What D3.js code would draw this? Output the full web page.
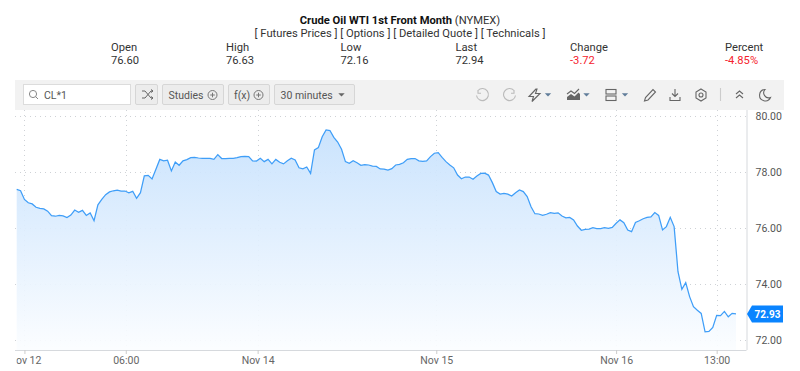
<!DOCTYPE html>
<html><head><meta charset="utf-8">
<script src="https://cdn.jsdelivr.net/npm/d3@7"></script>
<style>html,body{margin:0;padding:0;background:#fff}svg{display:block;font-family:Roboto,sans-serif}</style>
</head><body><svg id="c" width="800" height="371"></svg>
<script>
const titleBold = "Crude Oil WTI 1st Front Month";
const titleRest = " (NYMEX)";
const linksText = "[ Futures Prices ] [ Options ] [ Detailed Quote ] [ Technicals ]";
const quoteLabels = ["Open","High","Low","Last","Change","Percent"];
const quoteValues = ["76.60","76.63","72.16","72.94","-3.72","-4.85%"];
const yTicks = [72,74,76,78,80];
const xTickLabels = ["Nov 12","06:00","Nov 14","Nov 15","Nov 16","13:00"];
const xTickBars = [2,28.2,62.3,108.5,155,181];
const closes = [77.38,77.33,77.02,76.90,76.86,76.74,76.70,76.68,76.60,76.44,76.42,76.45,76.43,76.37,76.46,76.64,76.56,76.63,76.45,76.54,
76.26,76.83,77.02,77.19,77.29,77.33,77.35,77.32,77.32,77.26,77.31,77.06,77.26,77.86,77.88,77.75,78.10,78.45,78.40,78.42,
78.04,78.36,78.24,78.40,78.44,78.51,78.52,78.50,78.49,78.49,78.49,78.45,78.62,78.48,78.48,78.49,78.49,78.51,78.55,78.56,
78.55,78.40,78.39,78.49,78.37,78.45,78.29,78.45,78.35,78.29,78.40,78.49,78.43,78.15,78.11,78.18,77.95,78.79,78.87,79.26,
79.50,79.48,79.24,79.07,78.81,78.37,78.31,78.40,78.33,78.24,78.26,78.25,78.21,78.20,78.11,78.10,78.07,78.12,78.25,78.27,
78.33,78.45,78.48,78.48,78.40,78.38,78.40,78.55,78.67,78.69,78.52,78.37,78.25,78.15,77.89,77.76,77.82,77.82,77.74,77.86,
77.95,77.96,77.89,77.62,77.30,77.21,77.24,77.21,77.14,77.26,77.36,77.30,77.12,76.76,76.51,76.50,76.45,76.49,76.55,76.52,
76.54,76.43,76.36,76.38,76.29,76.07,75.92,75.95,75.96,76.01,75.98,75.98,76.01,75.99,76.02,76.17,76.29,76.19,75.93,75.87,
76.20,76.26,76.33,76.38,76.40,76.55,76.45,75.93,76.05,76.38,76.05,74.44,73.81,74.05,73.55,73.19,73.06,72.95,72.29,72.31,
72.45,72.88,72.87,73.02,72.83,72.95,72.93];
const lastLabel = "72.93";
const symbol = "CL*1";
const interval = "30 minutes";

const svg = d3.select("#c");
const x = d3.scaleLinear().domain([0, closes.length-1]).range([16.7, 736]);
const y = d3.scaleLinear().domain([72,80]).range([340,116]);
const plot = {l:15,r:746.5,t:110,b:350};
const textCol = "#333";

// header
const t = svg.append("text").attr("x",400).attr("y",24).attr("text-anchor","middle").attr("font-size",11.2).attr("fill","#111");
t.append("tspan").attr("font-weight",700).text(titleBold);
t.append("tspan").attr("fill","#333").text(titleRest);
svg.append("text").attr("x",400).attr("y",37).attr("text-anchor","middle").attr("font-size",11.2).attr("fill",textCol).text(linksText);
const qx = [111,226,340.5,455.5,570,725];
quoteLabels.forEach((l,i)=>{
  svg.append("text").attr("x",qx[i]).attr("y",51).attr("font-size",11.2).attr("fill",textCol).text(l);
  svg.append("text").attr("x",qx[i]).attr("y",64).attr("font-size",11.2).attr("fill",i>3?"#f5222d":textCol).text(quoteValues[i]);
});

// toolbar
svg.append("rect").attr("x",15).attr("y",80).attr("width",769).attr("height",30).attr("fill","#f2f2f2");
const btn=(bx,w)=>svg.append("rect").attr("x",bx+.5).attr("y",84.5).attr("width",w).attr("height",20).attr("rx",1.5).attr("fill","#ececec").attr("stroke","#d6d6d6");
svg.append("rect").attr("x",23.5).attr("y",84.5).attr("width",107).attr("height",20).attr("fill","#fff").attr("stroke","#dcdcdc");
svg.append("circle").attr("cx",33).attr("cy",94).attr("r",3.6).attr("fill","none").attr("stroke","#888");
svg.append("path").attr("d","M35.6 96.6L38 99").attr("stroke","#888");
svg.append("text").attr("x",44).attr("y",99).attr("font-size",10.5).attr("fill","#555").text(symbol);
btn(135,22); btn(162,61); btn(228,41); btn(274,80);
svg.append("path").attr("d","M142 91h3l6 7h2M142 98h3l6-7h2M151 89.5l2 1.5-2 1.5M151 96.5l2 1.5-2 1.5").attr("fill","none").attr("stroke","#666");
svg.append("text").attr("x",168.5).attr("y",99).attr("font-size",10.5).attr("fill","#555").text("Studies");
svg.append("text").attr("x",234).attr("y",99).attr("font-size",10.5).attr("fill","#555").text("f(x)");
svg.append("text").attr("x",280.5).attr("y",99).attr("font-size",10.5).attr("fill","#555").text(interval);
[212.5,258.5].forEach(cx=>{
  svg.append("circle").attr("cx",cx).attr("cy",95).attr("r",4.5).attr("fill","none").attr("stroke","#777");
  svg.append("path").attr("d",`M${cx-2.3} 95h4.6M${cx} 92.7v4.6`).attr("stroke","#777");
});
const caret=(cx,col)=>svg.append("path").attr("d",`M${cx-3.2} 93.2h6.4l-3.2 3.4z`).attr("fill",col);
caret(341.5,"#666"); caret(548,"#607d9a"); caret(586.5,"#607d9a"); caret(625,"#607d9a");
const ic = svg.append("g").attr("fill","none").attr("stroke","#666").attr("stroke-width",1.1);
ic.append("path").attr("d","M478 90.5a6 6 0 1 1-1.5 5M478 90v3.2h3").attr("stroke","#bbb");
ic.append("path").attr("d","M514 90.5a6 6 0 1 0 1.5 5M514 90v3.2h-3").attr("stroke","#bbb");
ic.append("path").attr("d","M536 89l-7 7.5h4.5l-1.5 5 8-8h-4.5l1.5-4.5z");
svg.append("path").attr("d","M567 100v-3l4-3 3.5 2.5 4-4 1.5 1.5v6z").attr("fill","#666");
ic.append("path").attr("d","M567 94l4-3 3.5 2.5 4.5-4.5");
ic.append("rect").attr("x",606).attr("y",89.5).attr("width",10).attr("height",4.5);
ic.append("rect").attr("x",606).attr("y",96).attr("width",10).attr("height",4.5);
ic.append("path").attr("d","M644.5 101l1-3.5 7.5-8 2.5 2.5-7.5 8z");
ic.append("path").attr("d","M675 89v7.5M672 93.5l3 3 3-3M670 97v3.5h10V97");
ic.append("circle").attr("cx",701).attr("cy",95).attr("r",2);
ic.append("path").attr("d","M701 89l5 3v6l-5 3-5-3v-6z");
ic.append("path").attr("d","M720.5 88v13").attr("stroke","#ccc");
ic.append("path").attr("d","M736 94l3.5-3 3.5 3M736 98l3.5-3 3.5 3");
ic.append("path").attr("d","M765 89.5a5.7 5.7 0 1 0 5.5 8a5 5 0 0 1-5.5-8z");

// grid
const defs = svg.append("defs");
const grad = defs.append("linearGradient").attr("id","fillGrad").attr("x1",0).attr("x2",0).attr("y1",0).attr("y2",1);
grad.append("stop").attr("offset","0%").attr("stop-color","#c6e1fd");
grad.append("stop").attr("offset","100%").attr("stop-color","#fbfdff");
defs.append("clipPath").attr("id","pc").append("rect").attr("x",16.5).attr("y",plot.t).attr("width",plot.r-16.5).attr("height",plot.b-plot.t+20);
const gridAttrs = s=>s.attr("stroke","#cfd2d6").attr("stroke-width",1).attr("stroke-dasharray","1 4");
gridAttrs(svg.append("g").selectAll("line").data(yTicks).join("line")
  .attr("x1",plot.l).attr("x2",plot.r).attr("y1",d=>y(d)+.5).attr("y2",d=>y(d)+.5));
gridAttrs(svg.append("g").selectAll("line").data(xTickBars).join("line")
  .attr("x1",d=>Math.round(x(d))+.5).attr("x2",d=>Math.round(x(d))+.5).attr("y1",plot.t).attr("y2",plot.b));

// series
const area = d3.area().x((d,i)=>x(i)).y0(plot.b).y1(d=>y(d));
const line = d3.line().x((d,i)=>x(i)).y(d=>y(d));
svg.append("path").datum(closes).attr("d",area).attr("fill","url(#fillGrad)").attr("opacity",.92);
svg.append("path").datum(closes).attr("d",line).attr("fill","none").attr("stroke","#3f9ef8").attr("stroke-width",1.25);

// axes
const gy = svg.append("g").attr("transform",`translate(${plot.r},0)`)
  .call(d3.axisRight(y).tickValues(yTicks).tickFormat(d3.format(".2f")).tickSize(0).tickPadding(9));
gy.select(".domain").attr("stroke","#d6d9dd").attr("d",`M0.5 ${plot.t}V${plot.b}`);
gy.selectAll("text").attr("font-family","Roboto,sans-serif").attr("font-size",10.5).attr("fill","#555");
svg.append("line").attr("x1",plot.l).attr("x2",plot.r).attr("y1",plot.b+.5).attr("y2",plot.b+.5).attr("stroke","#d6d9dd");
const gx = svg.append("g").attr("clip-path","url(#pc)")
  .append("g").attr("transform",`translate(0,${plot.b})`)
  .call(d3.axisBottom(x).tickValues(xTickBars).tickFormat((d,i)=>xTickLabels[i]).tickSize(4).tickPadding(3));
gx.select(".domain").remove();
gx.selectAll(".tick line").attr("stroke","#ccc");
gx.selectAll("text").attr("font-family","Roboto,sans-serif").attr("font-size",10.5).attr("fill","#666");

// last price tag
const ty = y(closes[closes.length-1]);
svg.append("path").attr("d",`M747 ${ty}l5-8.5h31v17h-31z`).attr("fill","#0a84ff");
svg.append("text").attr("x",767.5).attr("y",ty+4).attr("text-anchor","middle").attr("font-size",10).attr("font-weight",700).attr("fill","#fff").text(lastLabel);
</script></body></html>
